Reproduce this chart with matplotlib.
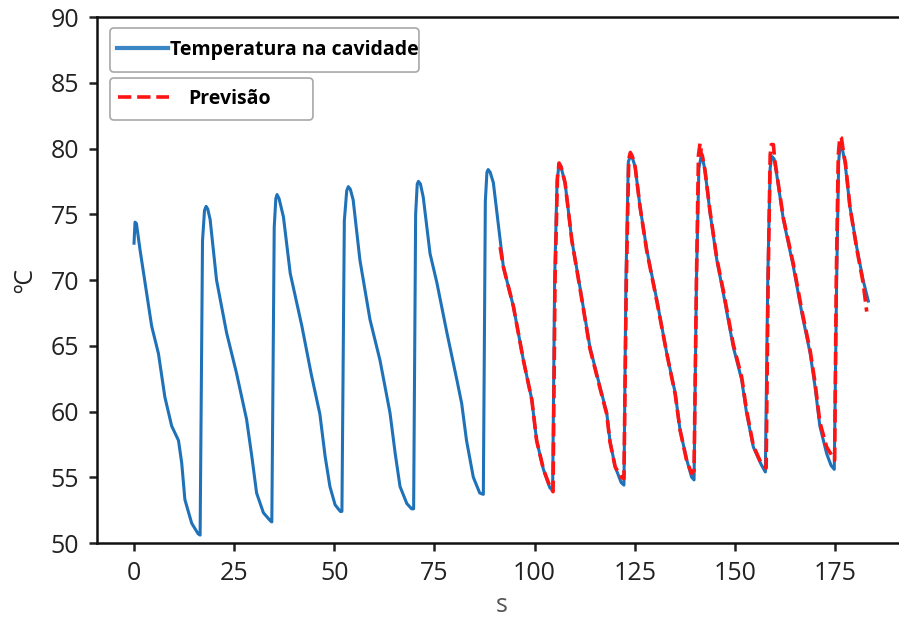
import matplotlib
matplotlib.use('Agg')
import matplotlib.pyplot as plt
from matplotlib.lines import Line2D
from matplotlib.patches import FancyBboxPatch

plt.rcParams['font.family'] = ['Open Sans', 'DejaVu Sans']

# measured cavity temperature (s, ºC)
t_medido = [0.0, 0.25, 0.6, 1.5, 2.75, 4.4, 6.1, 7.7, 9.4, 11.1, 11.9, 12.7, 14.4, 16.0, 16.5,
            17.1, 17.6, 18.0, 18.4, 19.0, 20.6, 23.1, 25.6, 28.1, 29.4, 30.6, 32.3, 34.0, 34.4,
            35.0, 35.4, 35.7, 36.2, 37.3, 39.0, 41.9, 44.2, 46.4, 47.7, 48.9, 50.2, 51.5, 51.9,
            52.5, 53.1, 53.5, 54.0, 54.7, 56.4, 58.9, 61.4, 63.9, 65.2, 66.4, 68.1, 69.3, 69.8,
            70.3, 70.7, 71.0, 71.5, 72.2, 73.9, 75.6, 78.1, 80.6, 81.8, 83.0, 84.7, 86.3, 87.2,
            87.7, 88.1, 88.4, 88.9, 89.7, 91.4, 92.2, 94.7, 97.2, 99.3, 100.5, 102.2, 103.8, 104.5,
            105.0, 105.6, 106.1, 106.5, 107.6, 109.3, 111.3, 113.8, 116.3, 118.0, 118.8, 120.1,
            121.6, 122.3, 122.8, 123.4, 123.9, 124.4, 125.1, 126.3, 128.0, 130.5, 133.0, 135.1,
            136.3, 138.0, 139.2, 139.8, 140.4, 141.0, 141.7, 142.5, 143.8, 145.5, 147.1, 149.6,
            151.7, 152.9, 154.6, 156.5, 157.6, 158.2, 158.8, 159.2, 159.8, 160.4, 162.1, 164.6,
            166.7, 168.8, 170.0, 171.2, 172.9, 174.0, 174.8, 175.4, 175.9, 176.3, 176.8, 177.5,
            178.7, 180.4, 182.0, 183.3]
temp_medida = [72.8, 74.4, 74.3, 72.3, 69.8, 66.5, 64.4, 61.1, 58.9, 57.8, 56.1, 53.3, 51.5, 50.7, 50.6,
               73.0, 75.3, 75.6, 75.4, 74.6, 70.0, 66.0, 62.9, 59.4, 56.6, 53.8, 52.3, 51.7, 51.6,
               74.0, 76.2, 76.5, 76.2, 74.8, 70.5, 66.5, 62.9, 59.8, 56.6, 54.3, 52.9, 52.4, 52.4,
               74.5, 76.8, 77.1, 76.9, 76.1, 71.5, 67.0, 63.9, 59.9, 56.8, 54.3, 53.0, 52.6, 52.6,
               75.0, 77.3, 77.5, 77.3, 76.3, 72.0, 69.8, 66.0, 62.4, 60.6, 57.8, 55.0, 53.8, 53.7,
               76.0, 78.2, 78.4, 78.2, 77.4, 73.0, 71.0, 68.0, 63.9, 60.9, 57.8, 55.6, 54.2, 54.0,
               70.0, 77.5, 78.8, 78.7, 77.4, 73.0, 69.5, 64.9, 61.9, 59.9, 57.8, 55.8,
               54.6, 54.4, 70.0, 79.0, 79.4, 79.3, 78.6, 75.6, 72.3, 68.5, 64.4, 61.4,
               58.6, 56.3, 55.0, 54.8, 70.0, 78.5, 79.6, 78.4, 75.1, 71.5, 69.0, 64.9,
               62.4, 59.9, 57.3, 56.0, 55.4, 70.0, 78.5, 79.4, 79.2, 78.1, 74.6, 71.0,
               67.5, 64.4, 61.9, 58.9, 56.8, 55.9, 55.6, 70.0, 79.0, 80.4, 80.0, 78.9,
               75.6, 72.5, 70.0, 68.4]

# model prediction
t_previsao = [91.4, 92.2, 94.7, 97.2, 99.3, 100.5, 102.2, 103.8, 104.6,
              105.1, 105.7, 106.1, 106.6, 107.6, 109.3, 111.3, 113.8, 116.3, 118.0, 118.8, 120.1,
              121.6, 122.3, 122.9, 123.5, 123.9, 124.4, 125.1, 126.3, 128.0, 130.5, 133.0, 135.1,
              136.3, 138.0, 139.2, 139.8, 140.4, 140.9, 141.3, 141.6, 141.5, 141.9, 142.5, 143.8,
              145.5, 147.1, 149.6, 151.7, 152.9, 154.6, 156.5, 157.8, 158.3, 158.8, 159.1, 159.6,
              160.0, 160.4, 162.1, 164.6, 166.7, 168.8, 170.0, 171.2, 172.9, 174.3, 174.9, 175.3,
              175.8, 176.2, 176.6, 177.2, 177.6, 178.7, 180.4, 182.0, 182.9]
temp_previsao = [72.5, 71.0, 68.0, 63.9, 60.9, 57.8, 55.6, 54.3, 53.9,
                 70.0, 77.8, 78.9, 78.6, 77.4, 73.0, 69.4, 64.8, 61.8, 59.8, 57.7, 55.8,
                 55.0, 54.9, 70.0, 79.2, 79.7, 79.4, 78.6, 75.6, 72.2, 68.4, 64.4, 61.3,
                 58.6, 56.2, 55.3, 55.5, 70.0, 79.5, 80.4, 80.2, 79.7, 79.4, 78.4, 75.2,
                 71.6, 69.2, 65.1, 62.6, 60.1, 57.4, 56.1, 55.7, 70.0, 79.5, 80.3, 80.3,
                 79.0, 78.2, 74.7, 71.2, 67.7, 64.6, 62.2, 59.2, 57.3, 56.6, 56.3, 70.0,
                 79.5, 80.9, 80.8, 79.5, 78.9, 75.6, 72.4, 69.8, 67.6]

azul = '#1f72b8'
vermelho = '#ff1414'

fig = plt.figure(figsize=(8.99, 6.21), dpi=100)
ax = fig.add_axes([0.1079, 0.1256, 0.901, 0.847])

ax.plot(t_medido, temp_medida, color=azul, lw=2.2)
ax.plot(t_previsao, temp_previsao, color=vermelho, lw=2.6, ls='--')

ax.set_xlim(-9.24, 192.96)
ax.set_ylim(50, 90)
ax.set_xticks([0, 25, 50, 75, 100, 125, 150, 175])
ax.set_yticks([50, 55, 60, 65, 70, 75, 80, 85, 90])
ax.tick_params(labelsize=18, length=6, width=1.8, pad=7, colors='#222222')
for s in ax.spines.values():
    s.set_linewidth(1.8)
    s.set_color('#111111')

ax.set_xlabel('s', fontsize=18, color='#555555', labelpad=5)
ax.set_ylabel('ºC', fontsize=18, color='#222222', labelpad=9)

# two separate legend boxes: frames drawn as patches, entries as frameless legends
aspect = 810 / 526
for x0, y0, w, h in [(0.016, 0.8954, 0.3815, 0.0837), (0.016, 0.8042, 0.2506, 0.0798)]:
    ax.add_patch(FancyBboxPatch((x0, y0), w, h, transform=ax.transAxes,
                                boxstyle='round,pad=0,rounding_size=0.005',
                                mutation_aspect=aspect, facecolor='white',
                                edgecolor='#a8a8a8', lw=1.2, zorder=4))

leg_font = {'size': 14, 'weight': 'bold'}
h1 = Line2D([], [], color='#3a86c4', lw=3.0)
leg1 = ax.legend([h1], ['Temperatura na cavidade'], loc='center left',
                 bbox_to_anchor=(0.0247, 0.9373), borderaxespad=0, borderpad=0,
                 prop=leg_font, handlelength=2.6, handletextpad=0.1, frameon=False)
ax.add_artist(leg1)
h2 = Line2D([], [], color=vermelho, lw=2.6, ls='--')
ax.legend([h2], ['Previsão'], loc='center left',
          bbox_to_anchor=(0.0259, 0.8441), borderaxespad=0, borderpad=0,
          prop=leg_font, handlelength=2.6, handletextpad=1.0, frameon=False)

fig.savefig('out.png', dpi=100)
